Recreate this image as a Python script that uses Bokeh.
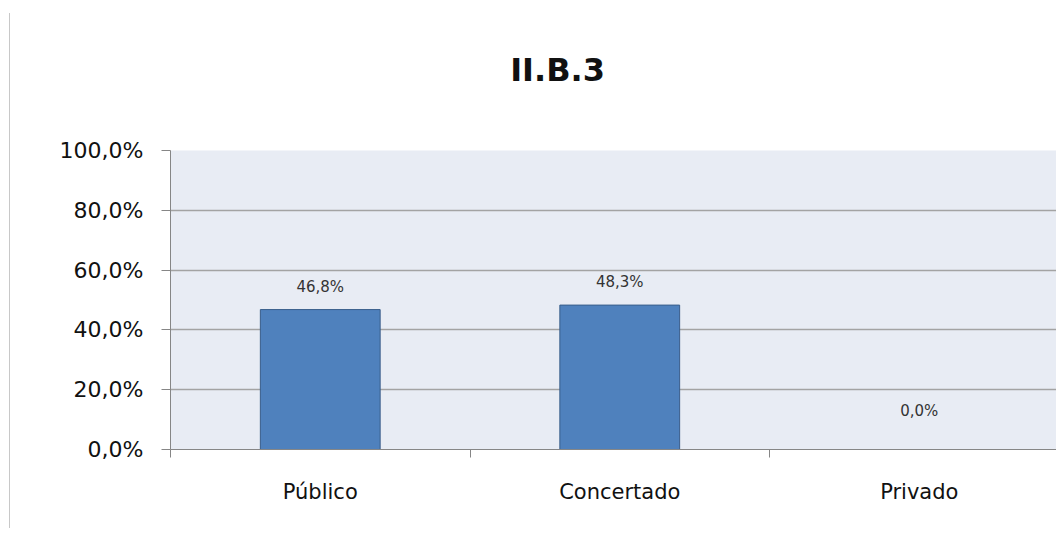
from bokeh.plotting import figure
from bokeh.models import FixedTicker, ColumnDataSource, LinearAxis, Range1d
from bokeh.layouts import column
from bokeh.core.properties import value
from bokeh.embed import file_html
from bokeh.resources import INLINE

title_text = "II.B.3"
categories = ["Público", "Concertado", "Privado"]
values = [46.8, 48.3, 0.0]
value_labels = ["46,8%", "48,3%", "0,0%"]
y_ticks = [0, 20, 40, 60, 80, 100]
y_tick_labels = ["0,0%", "20,0%", "40,0%", "60,0%", "80,0%", "100,0%"]

FONT = "DejaVu Sans"
CAT_W = 299.5
FRAME_W = 886
FRAME_H = 299
MB_LEFT, MB_TOP, MB_BOTTOM = 160, 20, 79
TOTAL_W = MB_LEFT + FRAME_W
TITLE_H = 117

# ---- title strip (pixel coordinates) ----
t = figure(width=TOTAL_W, height=TITLE_H, x_range=Range1d(0, TOTAL_W), y_range=Range1d(0, TITLE_H),
           output_backend="svg", toolbar_location=None, min_border=0,
           x_axis_location=None, y_axis_location=None)
t.grid.visible = False
t.outline_line_color = None
t.background_fill_color = "white"
t.border_fill_color = "white"
t.text(x=[457], y=[TITLE_H - 56], text=[title_text], text_align="center", text_baseline="middle",
       text_font=value(FONT), text_font_size="32px", text_font_style="bold", text_color="#111111")

# ---- main chart ----
xs = [i + 0.5 for i in range(len(categories))]
offsets = [-23 if v > 0 else -39 for v in values]
src = ColumnDataSource(dict(x=xs, top=values, lab=value_labels, off=offsets))

p = figure(
    frame_width=FRAME_W, frame_height=FRAME_H,
    x_range=Range1d(0, FRAME_W / CAT_W), y_range=Range1d(0, 100),
    output_backend="svg", toolbar_location=None,
    min_border_left=MB_LEFT, min_border_right=0, min_border_top=MB_TOP, min_border_bottom=MB_BOTTOM,
    x_axis_location=None, y_axis_location=None,
)
p.background_fill_color = "#e8ecf4"
p.border_fill_color = "white"
p.outline_line_color = None

# y axis
ya = LinearAxis(ticker=FixedTicker(ticks=y_ticks, minor_ticks=[]))
ya.major_label_overrides = {tk: l for tk, l in zip(y_ticks, y_tick_labels)}
ya.axis_line_color = "#868686"
ya.major_tick_line_color = "#868686"
ya.major_tick_in = 0
ya.major_tick_out = 9
ya.major_label_standoff = 18
ya.major_label_text_font = FONT
ya.major_label_text_font_size = "22px"
ya.major_label_text_color = "#111111"
p.add_layout(ya, "left")

# x axis: labels at centres, tick marks between categories
xa = LinearAxis(ticker=FixedTicker(ticks=xs, minor_ticks=list(range(len(categories) + 1))))
xa.major_label_overrides = {x: c for x, c in zip(xs, categories)}
xa.axis_line_color = "#868686"
xa.major_tick_line_color = None
xa.major_tick_in = 0
xa.major_tick_out = 0
xa.minor_tick_line_color = "#868686"
xa.minor_tick_in = 0
xa.minor_tick_out = 8
xa.major_label_standoff = 22
xa.major_label_text_font = FONT
xa.major_label_text_font_size = "21px"
xa.major_label_text_color = "#111111"
p.add_layout(xa, "below")

p.xgrid.visible = False
p.ygrid.ticker = FixedTicker(ticks=y_ticks)
p.ygrid.grid_line_color = "#a3a3a3"
p.ygrid.grid_line_width = 1.6

p.vbar(x="x", top="top", bottom=0, width=0.4, source=src,
       fill_color="#4f81bd", line_color="#385d8a", line_width=1)

p.text(x="x", y="top", text="lab", source=src, y_offset="off",
       text_align="center", text_baseline="middle",
       text_font=value(FONT), text_font_size="15px", text_color="#333333")

layout = column(t, p, spacing=0,
                styles={"border-left": "1px solid #c8c8c8", "margin-top": "13px", "margin-left": "9px"})

open("out.html", "w").write(file_html(layout, INLINE))
